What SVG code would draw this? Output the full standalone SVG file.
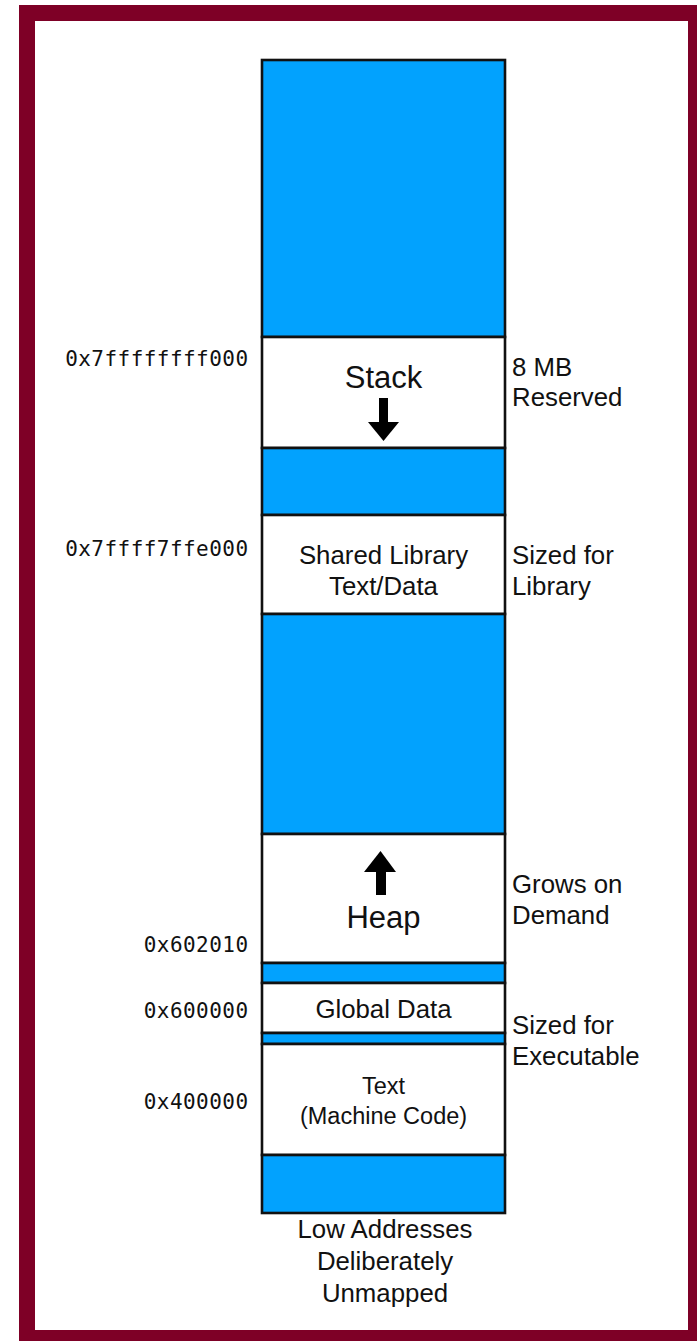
<svg xmlns="http://www.w3.org/2000/svg" width="697" height="1341" viewBox="0 0 697 1341">
<style>
.frame{fill:#ffffff;stroke:#7e0026;stroke-width:16}
.free{fill:#02a2fe;stroke:#111;stroke-width:2.6}
.seg{fill:#ffffff;stroke:#111;stroke-width:2.6}
.lbl{font-family:"Liberation Sans",Arial,Helvetica,sans-serif;font-size:25.8px;fill:#111}
.big{font-size:31px}
.sm{font-size:23.5px}
.mid{text-anchor:middle}
.addr{font-family:"DejaVu Sans Mono","Liberation Mono",monospace;font-size:21px;letter-spacing:0.45px;fill:#111;text-anchor:end}
.arr{fill:#000}
</style>
<rect class="frame" x="27" y="13" width="669" height="1325"/>
<g id="free-top"><rect class="free" x="262" y="60" width="243" height="277"/></g>
<g id="stack">
<rect class="seg" x="262" y="337" width="243" height="111"/>
<text class="lbl big mid" x="383.5" y="388">Stack</text>
<rect class="arr" x="379" y="398" width="9" height="25"/>
<polygon class="arr" points="368,422 399,422 383.5,441"/>
</g>
<g id="free-2"><rect class="free" x="262" y="448" width="243" height="67"/></g>
<g id="shared">
<rect class="seg" x="262" y="515" width="243" height="99"/>
<text class="lbl mid" x="383.5" y="564">Shared Library</text>
<text class="lbl mid" x="383.5" y="595">Text/Data</text>
</g>
<g id="free-3"><rect class="free" x="262" y="614" width="243" height="220"/></g>
<g id="heap">
<rect class="seg" x="262" y="834" width="243" height="129"/>
<polygon class="arr" points="364,872 396,872 380.5,851"/>
<rect class="arr" x="376" y="871" width="10" height="24"/>
<text class="lbl big mid" x="383.5" y="928">Heap</text>
</g>
<g id="free-4"><rect class="free" x="262" y="963" width="243" height="20"/></g>
<g id="global">
<rect class="seg" x="262" y="983" width="243" height="50"/>
<text class="lbl mid" x="383.5" y="1018">Global Data</text>
</g>
<g id="free-5"><rect class="free" x="262" y="1033" width="243" height="11"/></g>
<g id="text-seg">
<rect class="seg" x="262" y="1044" width="243" height="111"/>
<text class="lbl sm mid" x="383.5" y="1094">Text</text>
<text class="lbl sm mid" x="383.5" y="1124">(Machine Code)</text>
</g>
<g id="free-bottom"><rect class="free" x="262" y="1155" width="243" height="58"/></g>
<g id="connectors"></g>
<g id="addresses">
<text class="addr" x="248.5" y="366">0x7ffffffff000</text>
<text class="addr" x="248.5" y="556">0x7ffff7ffe000</text>
<text class="addr" x="248.5" y="952">0x602010</text>
<text class="addr" x="248.5" y="1018">0x600000</text>
<text class="addr" x="248.5" y="1109">0x400000</text>
</g>
<g id="notes">
<text class="lbl" x="512" y="376">8 MB</text>
<text class="lbl" x="512" y="406">Reserved</text>
<text class="lbl" x="512" y="564">Sized for</text>
<text class="lbl" x="512" y="595">Library</text>
<text class="lbl" x="512" y="893">Grows on</text>
<text class="lbl" x="512" y="924">Demand</text>
<text class="lbl" x="512" y="1034">Sized for</text>
<text class="lbl" x="512" y="1065">Executable</text>
<text class="lbl mid" x="385" y="1238">Low Addresses</text>
<text class="lbl mid" x="385" y="1270">Deliberately</text>
<text class="lbl mid" x="385" y="1302">Unmapped</text>
</g>
</svg>
